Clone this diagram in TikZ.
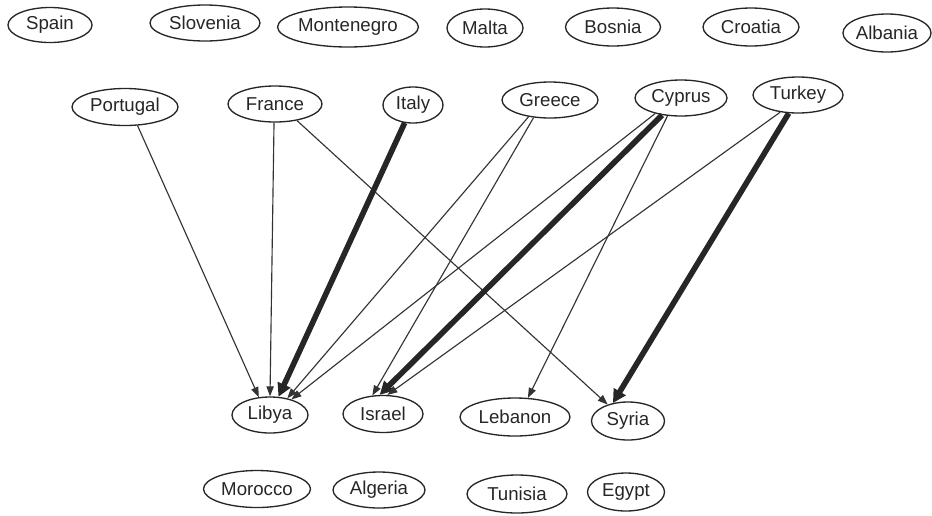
\documentclass[tikz,border=0pt]{standalone}
\usepackage{fontspec}
\setmainfont{Liberation Sans}
\usetikzlibrary{shapes.geometric,arrows.meta}
\begin{document}
\begin{tikzpicture}[x=0.75pt,y=-0.75pt,
  country/.style n args={2}{ellipse,draw=black!85,line width=1pt,inner sep=0pt,
    minimum width=#1*0.75pt,minimum height=#2*0.75pt,
    font=\fontsize{14}{16}\selectfont,text=black!85},
  flow/.style={draw=black!80,line width=0.85pt,
    -{Triangle[length=7.5pt,width=5.5pt]}},
  heavy/.style={draw=black!85,line width=4.2pt,
    -{Triangle[length=10pt,width=10pt]}}]
\useasboundingbox (0,0) rectangle (932,515);

% top row: countries without links
\node[country={84}{35}] (spain)      at (50,25)  {Spain};
\node[country={110}{36}] (slovenia)  at (205,23) {Slovenia};
\node[country={140}{40}] (montenegro) at (348,27) {Montenegro};
\node[country={76}{38}] (malta)      at (485,28) {Malta};
\node[country={95}{38}] (bosnia)     at (613,27) {Bosnia};
\node[country={96}{38}] (croatia)    at (751,27) {Croatia};
\node[country={88}{38}] (albania)    at (887,33) {Albania};

% sending countries
\node[country={106}{37}] (portugal) at (125,107) {Portugal};
\node[country={94}{36}] (france)    at (275,104) {France};
\node[country={60}{36}] (italy)     at (413,105) {Italy};
\node[country={96}{36}] (greece)    at (550,100) {Greece};
\node[country={92}{36}] (cyprus)    at (681,98)  {Cyprus};
\node[country={90}{36}] (turkey)    at (798,95)  {Turkey};

% receiving countries
\node[country={76}{36}] (libya)    at (270,415) {Libya};
\node[country={80}{37}] (israel)   at (383,414) {Israel};
\node[country={110}{38}] (lebanon) at (515,417) {Lebanon};
\node[country={73}{38}] (syria)    at (628,421) {Syria};

% bottom row
\node[country={107}{37}] (morocco) at (257,489) {Morocco};
\node[country={92}{36}] (algeria)  at (379,490) {Algeria};
\node[country={100}{38}] (tunisia) at (517,494) {Tunisia};
\node[country={77}{38}] (egypt)    at (626,492) {Egypt};

% links
\draw[flow]  (portugal.-56) -- (libya.122);
\draw[flow]  (france.-93)   -- (libya.90);
\draw[flow]  (france.-37)   -- (syria.141);
\draw[heavy] (italy.-115)   -- (libya.65);
\draw[flow]  (greece.-142)  -- (libya.44);
\draw[flow]  (greece.-133)  -- (israel.120);
\draw[flow]  (cyprus.-149)  -- (libya.36);
\draw[heavy] (cyprus.-138)  -- (israel.100);
\draw[flow]  (cyprus.-127)  -- (lebanon.56);
\draw[flow]  (turkey.-136)  -- (israel.77);
\draw[heavy] (turkey.-117)  -- (syria.130);
\end{tikzpicture}
\end{document}
